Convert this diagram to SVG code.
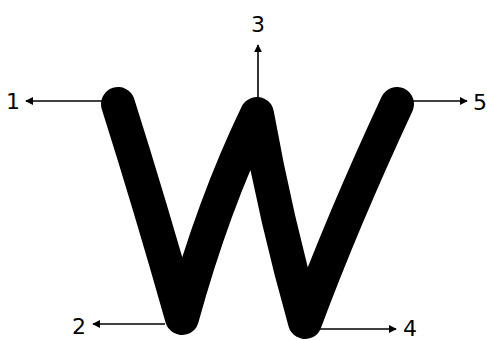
<svg xmlns="http://www.w3.org/2000/svg" width="487" height="341" viewBox="0 0 487 341">
<style>
.lbl{font-family:"DejaVu Sans",sans-serif;font-size:22px;fill:#000}
.arr{stroke:#000;stroke-width:1.6;fill:none;marker-end:url(#ah)}
</style>
<defs>
<marker id="ah" viewBox="0 0 10 10" refX="9" refY="5" markerWidth="8" markerHeight="8" markerUnits="userSpaceOnUse" orient="auto">
<path d="M0,0 L10,5 L0,10 z" fill="#000"/>
</marker>
</defs>
<rect width="487" height="341" fill="#fff"/>
<g id="letterW">
<path d="M118,104 Q150,205 182,318 Q213,205 257,114 Q276,220 305,322 Q343,220 397,104" fill="none" stroke="#000" stroke-width="34" stroke-linecap="round" stroke-linejoin="round"/>
</g>
<g id="connectors">
<line class="arr" x1="108" y1="101" x2="26" y2="101"/>
<line class="arr" x1="258" y1="98" x2="258" y2="45"/>
<line class="arr" x1="408" y1="101" x2="467" y2="101"/>
<line class="arr" x1="165" y1="324" x2="93" y2="324"/>
<line class="arr" x1="320" y1="329" x2="396" y2="329"/>
</g>
<g id="label1"><text class="lbl" x="13" y="109" text-anchor="middle">1</text></g>
<g id="label3"><text class="lbl" x="258" y="32" text-anchor="middle">3</text></g>
<g id="label5"><text class="lbl" x="480" y="110" text-anchor="middle">5</text></g>
<g id="label2"><text class="lbl" x="79" y="334" text-anchor="middle">2</text></g>
<g id="label4"><text class="lbl" x="410" y="336" text-anchor="middle">4</text></g>
</svg>
